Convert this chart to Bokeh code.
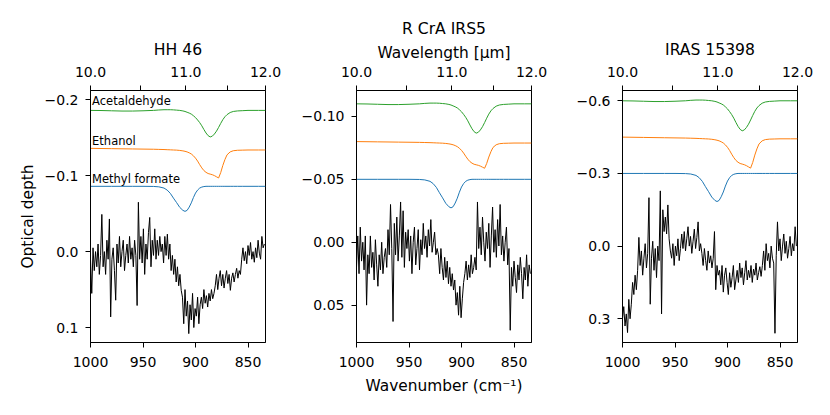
import numpy as np
from bokeh.plotting import figure
from bokeh.models import Range1d, LinearAxis, FixedTicker, CustomJSTickFormatter
from bokeh.layouts import row
from bokeh.embed import file_html
from bokeh.resources import INLINE
from bokeh.core.properties import value

# ---------------- data ----------------
TITLES = ["HH 46", "R CrA IRS5", "IRAS 15398"]
MOLECULES = ["Acetaldehyde", "Ethanol", "Methyl formate"]
MOL_COLORS = ["#2ca02c", "#ff7f0e", "#1f77b4"]

WN_TICKS = [1000, 950, 900, 850]
WL_TICKS = [10.0, 10.5, 11.0, 11.5, 12.0]
Y_TICKS = [[-0.2, -0.1, 0.0, 0.1], [-0.10, -0.05, 0.0, 0.05], [-0.6, -0.3, 0.0, 0.3]]
Y_DECIMALS = [1, 2, 1]
Y_RANGES = [(0.1197, -0.2122), (0.0797, -0.1206), (0.398, -0.6425)]

WN_START = 1000.0
WN_STEP = 1.2

OBS_HH46 = [
    0.010, 0.055, -0.005, 0.025, 0.000, 0.020, -0.010, 0.030, 0.005,
    -0.049, 0.020, 0.000, 0.030, -0.015, 0.010, -0.043, 0.086, 0.010, -0.005, 0.025, 0.064, -0.010, 0.015, -0.020, 0.020, 0.000, -0.015, 0.025, 0.005, -0.010,
    0.015, -0.020, 0.010, -0.005, 0.020, -0.015, 0.005, 0.071, -0.065, 0.010,
    -0.020, 0.015, -0.030, 0.030, -0.010, 0.010, -0.025, -0.045, 0.020, -0.015, 0.005, -0.030,
    0.010, -0.015, 0.005, -0.020, 0.000, -0.010, 0.015, -0.020, 0.005, -0.023,
    0.010, -0.010, 0.025, 0.005, 0.030, 0.010, 0.040, 0.020, 0.045, 0.030, 0.051,
    0.060, 0.095, 0.050, 0.085, 0.065, 0.108, 0.070, 0.090, 0.055, 0.100, 0.075, 0.085, 0.060, 0.095, 0.070,
    0.060, 0.075, 0.050, 0.068, 0.058, 0.073, 0.055, 0.065, 0.050, 0.062, 0.055,
    0.045, 0.030, 0.050, 0.035, 0.025, 0.045, 0.030, 0.048, 0.035, 0.025, 0.042, 0.030, 0.051, 0.035, 0.028, 0.040,
    0.030, 0.022, 0.035, 0.025, 0.030,
    0.010, -0.005, 0.012, 0.000, 0.016, -0.008, 0.005, -0.012, 0.010, 0.000, 0.014, -0.005, 0.008, -0.015, 0.002, 0.010, -0.020, -0.005, -0.010,
]
OBS_RCRA = [
    0.020, -0.005, 0.025, -0.012, 0.015, 0.000, 0.022, -0.005, 0.050,
    0.010, 0.025, -0.005, 0.020, 0.008, 0.030, -0.002, 0.018, 0.035, 0.010, 0.022, 0.000, 0.025, 0.012, 0.005, 0.020,
    -0.010, 0.010, -0.030, 0.005, 0.063, -0.015, 0.010, -0.020, 0.015, -0.005, -0.032, 0.012, -0.025, 0.020, -0.008, 0.005,
    -0.010, 0.015, -0.005, 0.025, 0.000, -0.012, 0.018, 0.005, -0.010, 0.022, -0.002, 0.010, -0.015, 0.005, -0.005, 0.012, -0.010, 0.003, -0.018, 0.008, 0.000, -0.008, 0.010, 0.005,
    0.010, 0.025, 0.005, 0.020, 0.030, 0.012, 0.028, 0.015, 0.033, 0.020, 0.035, 0.025, 0.038,
    0.030, 0.050, 0.040, 0.058, 0.035, 0.060, 0.045, 0.032,
    0.025, 0.015, 0.030, 0.018, 0.028, 0.010, 0.025, 0.020, 0.012, 0.022,
    -0.032, 0.005, -0.012, 0.010, -0.020, 0.000, 0.015, -0.008, 0.005, -0.015, 0.020, -0.005, -0.028, 0.008, -0.010, 0.012, -0.018, 0.003, -0.030, 0.010, -0.005, 0.015, 0.000, -0.012, 0.018, 0.005, 0.070,
    0.020, 0.035, 0.015, 0.028, 0.040, 0.018, 0.030, 0.012, 0.025, 0.045, 0.020, 0.030, 0.010, 0.035, 0.018, 0.025,
]
OBS_IRAS = [
    0.300, 0.250, 0.330, 0.280, 0.357, 0.220, 0.300, 0.240,
    0.150, 0.200, 0.120, 0.180, 0.100,
    -0.036, 0.080, 0.020, 0.120, 0.050, -0.010, 0.090, 0.030,
    -0.200, 0.240, 0.050, -0.020, 0.100, 0.010, 0.130, 0.000, 0.060,
    -0.228, 0.280, -0.150, -0.060,
    -0.120, -0.050, -0.170, -0.030, 0.020,
    0.050, -0.010, 0.080, 0.000, 0.040, -0.030, 0.060, 0.010,
    -0.050, 0.010, -0.060, 0.020, -0.030, -0.080, 0.000, -0.040, 0.030, -0.020, -0.070, 0.010, -0.035, -0.100, 0.020, -0.010,
    0.030, 0.080, 0.010, 0.060, 0.100, 0.020, 0.070, 0.040, 0.090, 0.050,
    -0.060, 0.180, 0.080, 0.120,
    0.100, 0.160, 0.080, 0.190, 0.120, 0.090, 0.150, 0.200, 0.110, 0.170, 0.130, 0.080, 0.180, 0.140,
    0.100, 0.150, 0.070, 0.130, 0.090, 0.160, 0.110, 0.060, 0.140, 0.100, 0.130, 0.080, 0.150, 0.095, 0.120, 0.070, 0.140, 0.110, 0.085, 0.125,
    0.080, 0.020, 0.100, -0.010, 0.060, 0.030, 0.090, 0.000, 0.050, 0.070, 0.360,
    0.040, -0.100, 0.020, -0.030, 0.060, 0.000, -0.050, 0.030, -0.020, 0.050, 0.010, -0.040, 0.040, -0.010, 0.020, -0.080, 0.000,
]
OBS = [OBS_HH46, OBS_RCRA, OBS_IRAS]

# lab profiles (normalised depth) on a common wavenumber grid
LAB_WN = [1000, 990, 980, 970, 960, 950, 940, 935, 930, 927, 924, 921, 918, 915, 912, 910, 908, 906,
          904, 902, 900, 898, 896, 894, 892, 890, 888, 886, 884, 882, 880, 878, 876, 874, 872, 870,
          867, 864, 860, 855, 850, 840, 833.3]
ACETALDEHYDE = [0.0, 0.005, 0.015, 0.025, 0.025, 0.015, 0.0, -0.015, -0.025, -0.025, -0.025, -0.02, -0.01, 0.0,
                0.02, 0.04, 0.07, 0.10, 0.14, 0.20, 0.27, 0.36, 0.46, 0.58, 0.72, 0.85, 0.95, 1.0, 0.97,
                0.89, 0.78, 0.64, 0.49, 0.35, 0.24, 0.16, 0.08, 0.04, 0.02, 0.01, 0.0, 0.0, 0.0]
ETHANOL = [0.0, 0.005, 0.01, 0.015, 0.02, 0.025, 0.03, 0.035, 0.04, 0.045, 0.05, 0.055, 0.06, 0.07,
           0.085, 0.10, 0.12, 0.15, 0.19, 0.25, 0.33, 0.43, 0.55, 0.66, 0.75, 0.81, 0.85, 0.87, 0.89,
           0.92, 0.96, 1.0, 0.82, 0.58, 0.38, 0.22, 0.12, 0.08, 0.065, 0.06, 0.055, 0.055, 0.055]
METHYL_FORMATE = [0.0, 0.0, 0.0, 0.0, 0.0, 0.0, 0.005, 0.02, 0.07, 0.15, 0.28, 0.47, 0.65, 0.84, 0.96,
                  1.0, 0.96, 0.83, 0.66, 0.45, 0.27, 0.15, 0.07, 0.03, 0.01, 0.0, 0.0, 0.0, 0.0, 0.0,
                  0.0, 0.0, 0.0, 0.0, 0.0, 0.0, 0.0, 0.0, 0.0, 0.0, 0.0, 0.0, 0.0]
LAB_PROFILES = [ACETALDEHYDE, ETHANOL, METHYL_FORMATE]
# per panel: (acetaldehyde, ethanol, methyl formate)
LAB_OFFSETS = [(-0.186, -0.136, -0.086), (-0.110, -0.080, -0.050), (-0.600, -0.450, -0.300)]
LAB_SCALES = [(0.035, 0.039, 0.033), (0.0233, 0.0212, 0.0227), (0.124, 0.128, 0.116)]
LABEL_Y = [-0.198, -0.1453, -0.0955]

# ---------------- layout ----------------
FONT = "DejaVu Sans"
BORDERS = [(90, 33), (57, 42), (48, 20)]  # left, right
TITLE_STANDOFF = [10, 5, 10]


def style_axis(ax, standoff):
    ax.axis_line_color = "black"
    ax.axis_line_width = 1
    ax.major_tick_line_color = "black"
    ax.major_tick_out = 5
    ax.major_tick_in = 0
    ax.minor_tick_out = 0
    ax.minor_tick_in = 0
    ax.major_label_text_font = FONT
    ax.major_label_text_font_size = "14px"
    ax.major_label_text_color = "black"
    ax.major_label_standoff = standoff
    ax.axis_label_text_font = FONT
    ax.axis_label_text_font_size = "15.4px"
    ax.axis_label_text_font_style = "normal"
    ax.axis_label_text_color = "black"


plots = []
for k in range(3):
    p = figure(frame_width=175, frame_height=252, output_backend="svg", toolbar_location=None,
               min_border_left=BORDERS[k][0], min_border_right=BORDERS[k][1],
               min_border_top=90, min_border_bottom=62,
               x_range=Range1d(WN_START, 1e4 / 12.0), y_range=Range1d(*Y_RANGES[k]),
               background_fill_color="white", border_fill_color="white")
    p.grid.visible = False
    p.outline_line_color = "black"
    p.outline_line_width = 1
    p.outline_line_alpha = 1

    p.title.text = TITLES[k]
    p.title.align = "center"
    p.title.text_font = FONT
    p.title.text_font_size = "15.6px"
    p.title.text_font_style = "normal"
    p.title.text_color = "black"
    p.title.standoff = TITLE_STANDOFF[k]

    xa = p.xaxis[0]
    xa.ticker = FixedTicker(ticks=WN_TICKS)
    style_axis(xa, 9)
    ya = p.yaxis[0]
    ya.ticker = FixedTicker(ticks=Y_TICKS[k])
    ya.formatter = CustomJSTickFormatter(
        code="return tick.toFixed(%d).replace('-', '\u2212');" % Y_DECIMALS[k])
    style_axis(ya, 7)

    top = LinearAxis(ticker=FixedTicker(ticks=[1e4 / w for w in WL_TICKS]),
                     formatter=CustomJSTickFormatter(
                         code="const w = 1e4/tick; return Math.abs(w - Math.round(w)) < 1e-6 ? w.toFixed(1) : '';"))
    style_axis(top, 9)
    p.add_layout(top, "above")

    if k == 0:
        ya.axis_label = "Optical depth"
    if k == 1:
        xa.axis_label = "Wavenumber (cm\u207b\u00b9)"
        xa.axis_label_standoff = 7
        top.axis_label = "Wavelength [\u03bcm]"
        top.axis_label_standoff = 2

    # lab spectra
    lab_x = np.array(LAB_WN)
    for m in range(3):
        lab_y = LAB_OFFSETS[k][m] + LAB_SCALES[k][m] * np.array(LAB_PROFILES[m])
        p.line(lab_x, lab_y, line_color=MOL_COLORS[m], line_width=1)

    # observed spectrum
    obs = np.array(OBS[k])
    obs_x = WN_START - WN_STEP * np.arange(len(obs))
    p.line(obs_x, obs, line_color="black", line_width=1)

    if k == 0:
        p.text(x=[998.5] * 3, y=LABEL_Y, text=MOLECULES, text_font=value(FONT),
               text_font_size="11.5px", text_baseline="middle", text_align="left", text_color="black")
    plots.append(p)

layout = row(*plots)
open("out.html", "w").write(file_html(layout, INLINE))
